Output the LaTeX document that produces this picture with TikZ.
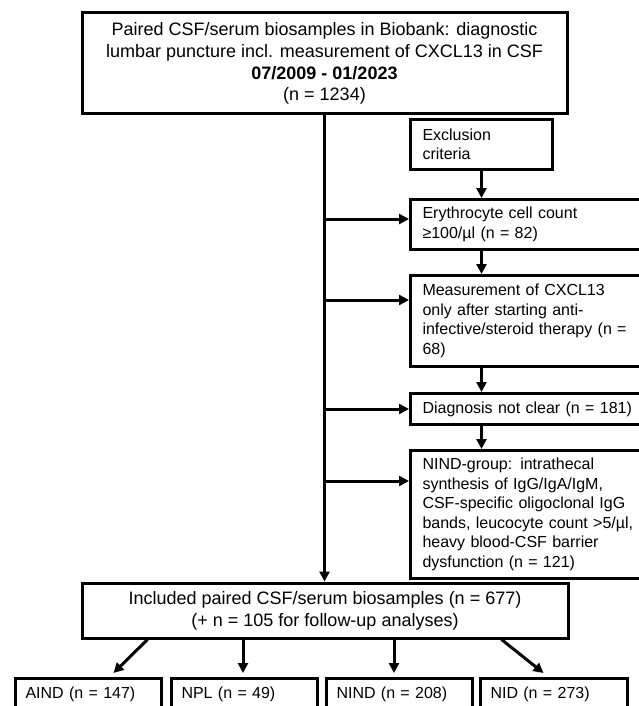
\documentclass[tikz,border=0pt]{standalone}
\usepackage{fontspec}
\setmainfont{Liberation Sans}
\usetikzlibrary{arrows.meta,calc}
\begin{document}
\begin{tikzpicture}[x=1pt,y=-1pt,
  box/.style={draw, line width=3pt, rectangle, inner sep=0pt},
  big/.style={box, font=\fontsize{18}{21.7}\selectfont, align=center},
  side/.style={box, font=\fontsize{16}{19.5}\selectfont, align=left, anchor=north west, text width=217pt, inner xsep=12pt, minimum width=241pt},
  grp/.style={box, font=\fontsize{16}{19.5}\selectfont, anchor=north west, align=left, text width=126pt, inner xsep=10pt, minimum height=32pt},
  arr/.style={line width=3pt, -{Triangle[length=10pt,width=10pt]}},
  ]
\useasboundingbox (0,0) rectangle (639,706);
\fill[white] (0,0) rectangle (639,706);
\clip (0,0) rectangle (639,706);

\node[big, minimum width=485pt, minimum height=101pt] (top) at (324.5,63.5)
  {Paired CSF/serum biosamples in Biobank: diagnostic\\lumbar puncture incl. measurement of CXCL13 in CSF\\\textbf{07/2009 - 01/2023}\\(n = 1234)};

\node[side, text width=118pt, minimum width=142pt, minimum height=50pt] (excl) at (409,118) {Exclusion\\criteria};
\node[side, minimum height=50pt] (ery) at (409,198) {Erythrocyte cell count\\≥100/µl (n = 82)};
\node[side, minimum height=91pt] (meas) at (409,274) {Measurement of CXCL13\\only after starting anti-\\infective/steroid therapy (n =\\68)};
\node[side, minimum height=31pt] (diag) at (409,392) {Diagnosis not clear (n = 181)};
\node[side, minimum height=128pt] (nindg) at (409,449) {NIND-group: intrathecal\\synthesis of IgG/IgA/IgM,\\CSF-specific oligoclonal IgG\\bands, leucocyte count >5/µl,\\heavy blood-CSF barrier\\dysfunction (n = 121)};

\node[big, minimum width=486pt, minimum height=55pt] (incl) at (325,610.5)
  {Included paired CSF/serum biosamples (n = 677)\\(+ n = 105 for follow-up analyses)};

\node[grp] (aind) at (14,677) {AIND (n = 147)};
\node[grp] (npl) at (170,677) {NPL (n = 49)};
\node[grp] (nind) at (325,677) {NIND (n = 208)};
\node[grp, text width=127pt] (nid) at (479,677) {NID (n = 273)};

% trunk
\draw[arr] (top.south) -- (top.south |- incl.north);
% branches
\coordinate (eryin) at ([yshift=-21pt]ery.north west);
\coordinate (measin) at ([yshift=-26pt]meas.north west);
\coordinate (diagin) at (diag.west);
\coordinate (nindgin) at ([yshift=-32pt]nindg.north west);
\draw[arr] (top.south |- eryin) -- (eryin);
\draw[arr] (top.south |- measin) -- (measin);
\draw[arr] (top.south |- diagin) -- (diagin);
\draw[arr] (top.south |- nindgin) -- (nindgin);
% right column chain
\draw[arr] (excl.south) -- (excl.south |- ery.north);
\draw[arr] (excl.south |- ery.south) -- (excl.south |- meas.north);
\draw[arr] (excl.south |- meas.south) -- (excl.south |- diag.north);
\draw[arr] (excl.south |- diag.south) -- (excl.south |- nindg.north);
% bottom split
\draw[arr] ([xshift=67pt]incl.south west) -- ([xshift=25pt,yshift=4pt]aind.north);
\draw[arr] ([xshift=-1.5pt]npl.north |- incl.south) -- ([xshift=-1.5pt,yshift=4pt]npl.north);
\draw[arr] ([xshift=-5.5pt]nind.north |- incl.south) -- ([xshift=-5.5pt,yshift=4pt]nind.north);
\draw[arr] ([xshift=-68pt]incl.south east) -- ([xshift=-10.5pt,yshift=4pt]nid.north);
\end{tikzpicture}
\end{document}
